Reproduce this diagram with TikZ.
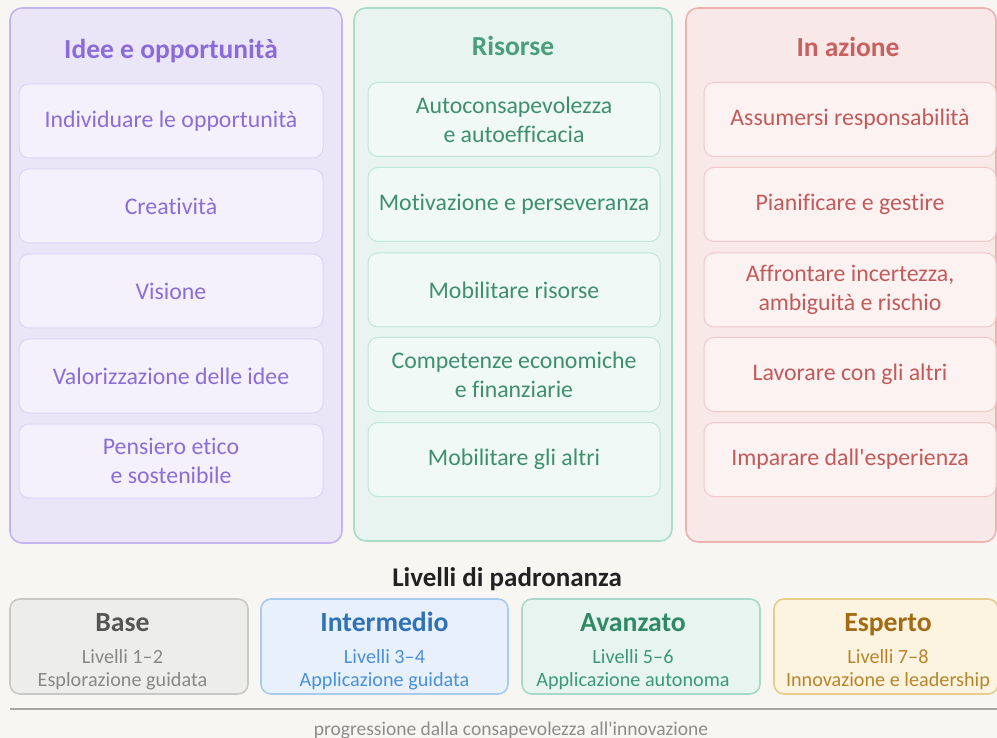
\documentclass[tikz,border=0pt]{standalone}
\usepackage{fontspec}
\setmainfont{Carlito}[Ligatures={NoCommon,TeXOff}]
\definecolor{bg}{HTML}{F7F6F3}
\definecolor{pcol}{HTML}{EBE6F7}\definecolor{pbor}{HTML}{C4B5EE}\definecolor{ptit}{HTML}{8B6BD9}
\definecolor{pin}{HTML}{F4F1FC}\definecolor{pinb}{HTML}{DDD4F6}\definecolor{ptxt}{HTML}{8A6DD6}
\definecolor{gcol}{HTML}{E7F4EF}\definecolor{gbor}{HTML}{A9DCC9}\definecolor{gtit}{HTML}{4A9D7D}
\definecolor{gin}{HTML}{F0F9F6}\definecolor{ginb}{HTML}{BFE6D7}\definecolor{gtxt}{HTML}{3E8F6F}
\definecolor{rcol}{HTML}{F9E8E8}\definecolor{rbor}{HTML}{EDB3B3}\definecolor{rtit}{HTML}{C95F5F}
\definecolor{rin}{HTML}{FCF2F2}\definecolor{rinb}{HTML}{F0C8C8}\definecolor{rtxt}{HTML}{C35A5A}
\definecolor{bfill}{HTML}{EDEDEB}\definecolor{bbor}{HTML}{C8C8C6}\definecolor{btit}{HTML}{555555}\definecolor{btxt}{HTML}{888888}
\definecolor{ifill}{HTML}{E8F0FB}\definecolor{ibor}{HTML}{A8CBEB}\definecolor{itit}{HTML}{2F72B8}\definecolor{itxt}{HTML}{4A90D9}
\definecolor{afill}{HTML}{E8F4F0}\definecolor{abor}{HTML}{A8D8C8}\definecolor{atit}{HTML}{2D8A65}\definecolor{atxt}{HTML}{3A9A78}
\definecolor{efill}{HTML}{FCF3E0}\definecolor{ebor}{HTML}{E8CC8A}\definecolor{etit}{HTML}{A36B12}\definecolor{etxt}{HTML}{B8862A}
\tikzset{
  colbox/.style n args={2}{draw=#2, fill=#1, line width=1.6pt, rounded corners=12pt, inner sep=0pt},
  coltitle/.style={font=\fontsize{27.5}{30}\selectfont\bfseries, text=#1, anchor=base, inner sep=0pt},
  inbox/.style n args={3}{draw=#2, fill=#1, text=#3, line width=1pt, rounded corners=10pt,
     minimum height=74pt, align=center, font=\fontsize{23.8}{29}\selectfont, inner sep=0pt},
  lvbox/.style n args={2}{draw=#2, fill=#1, line width=1.6pt, rounded corners=10pt, minimum height=95pt, inner sep=0pt},
  lvtitle/.style={font=\fontsize{27.7}{30}\selectfont\bfseries, text=#1, anchor=base, inner sep=0pt},
  lvtext/.style={font=\fontsize{20.2}{23}\selectfont, text=#1, anchor=base, inner sep=0pt},
}
\begin{document}
\begin{tikzpicture}[x=1pt,y=-1pt]
\fill[bg] (0,0) rectangle (997,738);
\useasboundingbox (0,0) rectangle (997,738);
% columns
\node[colbox={pcol}{pbor}, minimum width=332pt, minimum height=535pt] (pc) at (176,275.5) {};
\node[colbox={gcol}{gbor}, minimum width=318pt, minimum height=533pt] (gc) at (513,274.5) {};
\node[colbox={rcol}{rbor}, minimum width=310pt, minimum height=534pt] (rc) at (841,275) {};
\node[coltitle=ptit] (pt) at (171,59) {Idee e opportunità};
\node[coltitle=gtit] (gt) at (513,56) {Risorse};
\node[coltitle=rtit] (rt) at (848,57) {In azione};
% purple items
\foreach \n/\y/\t in {1/121/{Individuare le opportunità},2/206/{Creatività},3/291/{Visione},4/376/{Valorizzazione delle idee},5/461/{Pensiero etico\\e sostenibile}}
  \node[inbox={pin}{pinb}{ptxt}, minimum width=304pt] (p\n) at (171,\y) {\t};
% green items
\foreach \n/\y/\t in {1/119.5/{Autoconsapevolezza\\e autoefficacia},2/204.5/{Motivazione e perseveranza},3/290/{Mobilitare risorse},4/374.5/{Competenze economiche\\e finanziarie},5/459.5/{Mobilitare gli altri}}
  \node[inbox={gin}{ginb}{gtxt}, minimum width=292pt] (g\n) at (514,\y) {\t};
% red items
\foreach \n/\y/\t in {1/119.5/{Assumersi responsabilità},2/204.5/{Pianificare e gestire},3/290/{Affrontare incertezza,\\ambiguità e rischio},4/374.5/{Lavorare con gli altri},5/459.5/{Imparare dall'esperienza}}
  \node[inbox={rin}{rinb}{rtxt}, minimum width=292pt] (r\n) at (850,\y) {\t};
% levels
\node[font=\fontsize{27}{30}\selectfont\bfseries, text=black!87, anchor=base, inner sep=0pt] (lvh) at (507,586.5) {Livelli di padronanza};
\node[lvbox={bfill}{bbor}, minimum width=238pt] (lb) at (129,646.5) {};
\node[lvbox={ifill}{ibor}, minimum width=247pt] (li) at (384.5,646.5) {};
\node[lvbox={afill}{abor}, minimum width=238pt] (la) at (641,646.5) {};
\node[lvbox={efill}{ebor}, minimum width=224pt] (le) at (886,646.5) {};
\foreach \k/\x/\ti/\a/\b/\c in {b/122.5/Base/1–2/Esplorazione guidata/b,i/384.5/Intermedio/3–4/Applicazione guidata/i,a/633/Avanzato/5–6/Applicazione autonoma/a,e/888/Esperto/7–8/Innovazione e leadership/e}{
  \node[lvtitle=\c tit] (t\k) at (\x,631.5) {\ti};
  \node[lvtext=\c txt] (s\k) at (\x,663) {Livelli \a};
  \node[lvtext=\c txt] (d\k) at (\x,686.5) {\b};
}
\coordinate (l0) at (10,709);
\coordinate (l1) at (997,709);
\draw[line width=1.6pt, draw=black!35] (l0) -- (l1);
\node[font=\fontsize{19.5}{22}\selectfont, text=black!45, anchor=base, inner sep=0pt] (cap) at (511,735) {progressione dalla consapevolezza all'innovazione};
\end{tikzpicture}
\end{document}
